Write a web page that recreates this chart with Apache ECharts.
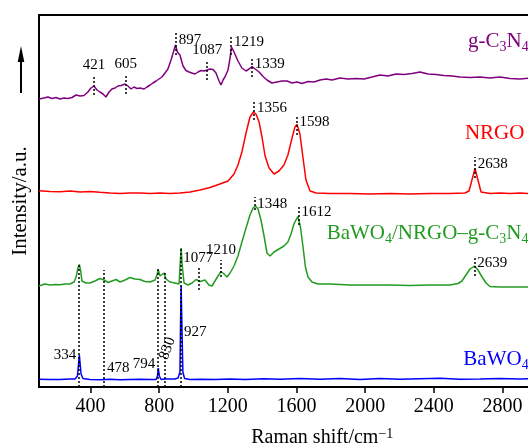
<!DOCTYPE html>
<html><head><meta charset="utf-8">
<script src="https://cdn.jsdelivr.net/npm/echarts@6/dist/echarts.min.js"></script>
<style>html,body{margin:0;padding:0;background:#fff}#c{width:528px;height:448px}</style>
</head><body><div id="c"></div>
<script>
const FONT = 'Liberation Serif';
const tickValues = [400, 800, 1200, 1600, 2000, 2400, 2800];

// g-C3N4 spectrum (offset, a.u.)
const gcnShift = [100,129,152,176,199,222,246,269,292,316,339,362,385,403,420,438,455,473,490,508,525,543,560,578,601,618,636,653,671,688,712,729,747,764,782,799,816,834,851,869,883,895,906,921,939,956,974,991,1009,1026,1044,1061,1079,1096,1114,1131,1149,1160,1172,1183,1201,1213,1221,1236,1259,1282,1306,1324,1341,1359,1382,1405,1428,1457,1486,1515,1545,1574,1603,1632,1667,1702,1737,1772,1807,1853,1900,1947,1993,2040,2086,2133,2180,2226,2273,2319,2366,2413,2459,2506,2552,2611,2669,2727,2785,2844,2902,2960];
const gcnIntensity = [288,289,290,288.5,289.5,288,289,288.5,289.5,292,291,291.5,295,299,301,297,295,293,290,295,298,299,301,301.5,303,301,298,300,298.5,299,298,300,302,304,306,308,310,314,318,327,335,342,335,332,321,316.5,315,314,313,315,316.5,316,317,318,317.5,314,306,302,307,310,317,329,340,335,326,319,316,318,320.5,318,315,310.5,307,304,305,306,306,304,305,303.5,305.5,305,307,308,307,309,308,308.5,308,310,312,311,313,312.5,313.5,315,313,312.5,311.5,311,310,309.5,310,309,310,308.5,308,309];

// NRGO spectrum
const nrgoShift = [100,164,222,281,339,397,455,514,572,630,688,747,805,863,921,980,1038,1096,1154,1201,1236,1259,1282,1306,1329,1349,1364,1382,1399,1417,1440,1469,1498,1527,1550,1574,1591,1603,1620,1638,1655,1679,1714,1795,1912,2028,2145,2261,2378,2494,2581,2605,2622,2640,2657,2675,2727,2785,2844,2902,2960];
const nrgoIntensity = [196.3,195.5,195.3,196,195,195.5,194.7,194,193.5,194,194,193.5,194,193.5,194,195,197,199.5,203,206,213,222,235,254,270,275,273,265,250,231,219,213,216,222,232,249,260,262.5,253,229,207,196,194,193.5,193.5,193,193.5,193,193.5,193.5,194,196,207,218.5,207,195,193.5,194,193.5,194,193.5];

// BaWO4/NRGO-g-C3N4 spectrum
const compShift = [100,117,135,164,193,222,251,281,304,316,327,335,342,350,374,397,426,455,479,502,525,549,572,601,630,659,688,717,747,776,787,795,805,816,828,840,863,892,916,922,928,934,945,968,991,1015,1038,1067,1090,1108,1125,1143,1160,1178,1195,1213,1236,1259,1282,1306,1329,1347,1361,1376,1393,1411,1428,1446,1469,1498,1527,1550,1568,1585,1597,1608,1623,1638,1652,1667,1690,1725,1795,1912,2028,2145,2261,2378,2494,2541,2564,2587,2611,2637,2657,2681,2704,2727,2785,2844,2902,2960];
const compIntensity = [101,102,103,102,102.5,102.3,103,103,105,110,119,122.5,117,106,104,104,106,108.5,107,104.5,106,107.5,105,107,109.5,108,107.5,105.5,105,107,112,117,111,110.5,114,108,105,104,103,122,139,122,104,102,104,107.5,105.5,107,102,101,106,111,115.5,113,110,114,121,131,145,159,172,179,181,178,167,151,134,131,135,138,141,145,153,163,167,170.5,160,140,120,110,105,103,103,102,102,102,101.5,102,102,103.5,106,112,118,121,117,110,104,100.5,100,100,100,100];

// BaWO4 spectrum
const bwShift = [100,164,222,281,310,324,335,345,356,397,455,514,572,630,688,747,782,790,795,801,811,834,863,892,910,921,924,928,933,938,948,980,1038,1125,1213,1300,1411,1504,1620,1737,1853,1970,2086,2203,2319,2436,2552,2669,2785,2902,2960];
const bwIntensity = [7.7,7.5,7.5,8,8,11,32,13,8.5,7.5,7.3,7.7,7.2,7.5,7.7,7.5,7.5,11,19,11,7.5,8,8,8,9,15,57,101,57,15,8.5,7.5,7.7,7.5,8,7.5,8.3,7.7,8.5,7.7,8.5,7.5,8.5,7.7,8.3,8.8,7.7,8,8.5,8,8.3];

// peak annotations: dotted-line position, printed label, dotted-line span (a.u.)
const gcnPeakPos = [421, 605, 897, 1080, 1219, 1339];
const gcnPeakText = ['421', '605', '897', '1087', '1219', '1339'];
const gcnPeakSpan = [[292,312],[293,313],[332,354],[307,327],[332,352],[310,330]];
const gcnPeakSide = ['top','top','right','top','right','right'];

const nrgoPeakPos = [1352, 1600, 2638];
const nrgoPeakText = ['1356', '1598', '2638'];
const nrgoPeakSpan = [[267,286],[252,272],[209,230]];
const nrgoPeakSide = ['right','right','right'];

const compPeakPos = [1354, 1612, 2636, 1160, 1028];
const compPeakText = ['1348', '1612', '2639', '1210', '1077'];
const compPeakSpan = [[177,190],[162,182],[111,131],[110,127],[97,119]];
const compPeakSide = ['right','right','right','top','top'];

const bwPeakPos = [334, 478, 794, 830, 927];
const bwPeakText = ['334', '478', '794', '830', '927'];
const bwPeakSpan = [[0,123],[0,117],[0,118],[0,114],[0,139]];
const bwPeakLabelLevel = [31.5, 19, 23, 30, 55];
const bwPeakSide = ['left','right','left','rot','right'];

const C_GCN = '#800080', C_NRGO = '#ff0000', C_COMP = '#239b23', C_BW = '#0000ff';

const dotStyle = {color: '#000', width: 1.5, type: [2, 2]};
function dotted(pos, span) {
  return pos.map((p, i) => [{coord: [p, span[i][0]]}, {coord: [p, span[i][1]]}]);
}
function baseLabel(text) {
  return {show: true, formatter: text, color: '#000', fontFamily: FONT, fontSize: 15};
}
function peakLabels(pos, text, span, side) {
  return pos.map((p, i) => {
    const lab = baseLabel(text[i]);
    if (side[i] === 'top') Object.assign(lab, {position: 'top', distance: 2});
    else Object.assign(lab, {position: 'right', distance: 3, offset: [0, 7]});
    return {coord: [p, span[i][1]], label: lab};
  });
}
function bwLabels() {
  return bwPeakPos.map((p, i) => {
    const lab = baseLabel(bwPeakText[i]);
    const s = bwPeakSide[i];
    if (s === 'left') Object.assign(lab, {position: 'left', distance: 3});
    else if (s === 'right') Object.assign(lab, {position: 'right', distance: 3});
    else Object.assign(lab, {position: 'inside', rotate: 70, offset: [9, 0], align: 'center', verticalAlign: 'middle'});
    return {coord: [p, bwPeakLabelLevel[i]], label: lab};
  });
}
function nameLabel(coord, text, color) {
  return {coord, label: {show: true, position: 'right', distance: 0, formatter: text, color,
    fontFamily: FONT, fontSize: 21, lineHeight: 26,
    rich: {s: {fontSize: 14, lineHeight: 14, verticalAlign: 'bottom', fontFamily: FONT, color}}}};
}
function spectrum(name, color, xs, ys, lines, points) {
  return {
    type: 'line', name, data: xs.map((x, i) => [x, ys[i]]), showSymbol: false, symbol: 'none',
    lineStyle: {color, width: 1.5}, itemStyle: {color}, silent: true, animation: false,
    markLine: {silent: true, symbol: ['none', 'none'], lineStyle: dotStyle, label: {show: false}, animation: false, data: lines},
    markPoint: {silent: true, symbol: 'circle', symbolSize: 0, animation: false, data: points}
  };
}

const chart = echarts.init(document.getElementById('c'), null, {renderer: 'canvas'});
chart.setOption({
  animation: false,
  backgroundColor: '#fff',
  grid: {left: 39, top: 15, right: -77.5, bottom: 61, show: true, borderColor: '#000', borderWidth: 2,
    containLabel: false, outerBoundsMode: 'none'},
  xAxis: {
    type: 'value', min: 100, max: 3400,
    axisLine: {show: true, lineStyle: {color: '#000', width: 1.5}},
    axisTick: {show: true, inside: false, length: 6, lineStyle: {color: '#000', width: 1.5}, customValues: tickValues},
    axisLabel: {customValues: tickValues, formatter: v => String(v), color: '#000', fontFamily: FONT, fontSize: 20, lineHeight: 20, margin: 10},
    splitLine: {show: false},
    name: 'Raman shift/cm{sup|−1}', nameLocation: 'middle', nameGap: 40,
    nameTextStyle: {color: '#000', fontFamily: FONT, fontSize: 20, lineHeight: 22,
      rich: {sup: {fontSize: 14, lineHeight: 14, verticalAlign: 'top', fontFamily: FONT, color: '#000'}}}
  },
  yAxis: {
    type: 'value', min: 0, max: 372,
    axisLine: {show: true, lineStyle: {color: '#000', width: 1.5}},
    axisTick: {show: false}, axisLabel: {show: false}, splitLine: {show: false},
    name: 'Intensity/a.u.', nameLocation: 'middle', nameGap: 8,
    nameTextStyle: {color: '#000', fontFamily: FONT, fontSize: 21}
  },
  graphic: [
    {type: 'line', shape: {x1: 21, y1: 93, x2: 21, y2: 58}, style: {stroke: '#000', lineWidth: 2}},
    {type: 'polygon', shape: {points: [[21, 46], [17.7, 62], [24.3, 62]]}, style: {fill: '#000'}}
  ],
  series: [
    spectrum('g-C3N4', C_GCN, gcnShift, gcnIntensity, dotted(gcnPeakPos, gcnPeakSpan),
      peakLabels(gcnPeakPos, gcnPeakText, gcnPeakSpan, gcnPeakSide).concat([nameLabel([2599, 346], 'g-C{s|3}N{s|4}', C_GCN)])),
    spectrum('NRGO', C_NRGO, nrgoShift, nrgoIntensity, dotted(nrgoPeakPos, nrgoPeakSpan),
      peakLabels(nrgoPeakPos, nrgoPeakText, nrgoPeakSpan, nrgoPeakSide).concat([nameLabel([2581, 254], 'NRGO', C_NRGO)])),
    spectrum('BaWO4/NRGO–g-C3N4', C_COMP, compShift, compIntensity, dotted(compPeakPos, compPeakSpan),
      peakLabels(compPeakPos, compPeakText, compPeakSpan, compPeakSide).concat([nameLabel([1776, 154], 'BaWO{s|4}/NRGO–g-C{s|3}N{s|4}', C_COMP)])),
    spectrum('BaWO4', C_BW, bwShift, bwIntensity, dotted(bwPeakPos, bwPeakSpan),
      bwLabels().concat([nameLabel([2572, 27.5], 'BaWO{s|4}', C_BW)]))
  ]
});
</script></body></html>
